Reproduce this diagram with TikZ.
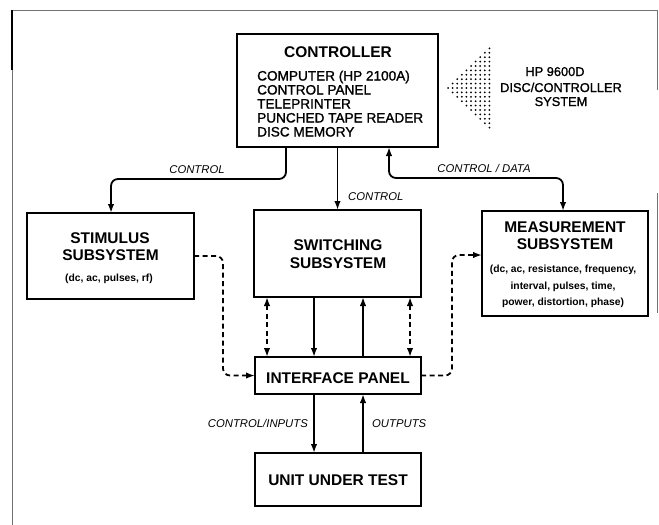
\documentclass[tikz,border=0pt]{standalone}
\usepackage{fontspec}
\setmainfont{Liberation Sans}
\newfontfamily\medfont[FakeBold=1.3]{Liberation Sans}
\usetikzlibrary{arrows.meta,calc}
\begin{document}
\begin{tikzpicture}[x=1pt,y=-1pt]
\tikzset{
 boxst/.style={draw,line width=2.4pt,inner sep=0pt,outer sep=0pt},
 conn/.style={line width=1.8pt},
 arr/.style={conn,-{Latex[length=9pt,width=6.5pt]}},
 biarr/.style={conn,{Latex[length=9pt,width=6.5pt]}-{Latex[length=9pt,width=6.5pt]}},
 dashconn/.style={conn,dash pattern=on 5pt off 3.5pt},
 rc/.style={rounded corners=7pt},
 ttl/.style={font=\bfseries\fontsize{15.5}{18}\selectfont,inner sep=0pt,anchor=base},
 lst/.style={font=\medfont\fontsize{13.6}{14}\selectfont,inner sep=0pt,anchor=base west},
 sml/.style={font=\bfseries\fontsize{10.3}{12}\selectfont,inner sep=0pt,anchor=base},
 lbl/.style={font=\itshape\fontsize{11.3}{13}\selectfont,inner sep=0pt},
 hpst/.style={font=\medfont\fontsize{12.8}{14}\selectfont,inner sep=0pt,anchor=base},
 framest/.style={draw=black!55,line width=1pt}
}
\useasboundingbox (0,0) rectangle (659,525);
% frame
\draw[framest] (12,525) -- (12,10) -- (657,10) -- (657,90);
\draw[framest] (657,193) -- (657,313);
\draw[line width=1.5pt] (12,10) -- (12,70);

% boxes
\node[boxst,minimum width=201pt,minimum height=113pt] (ctrl) at (337.5,90.5) {};
\node[boxst,minimum width=167pt,minimum height=86pt] (stim) at (110.5,256) {};
\node[boxst,minimum width=167pt,minimum height=87pt] (sw) at (337.5,253.5) {};
\node[boxst,minimum width=166pt,minimum height=105pt] (meas) at (565,263.5) {};
\node[boxst,minimum width=166pt,minimum height=37pt] (ifp) at (338,375.5) {};
\node[boxst,minimum width=166pt,minimum height=53pt] (uut) at (338,479.5) {};

% texts
\node[ttl] (tctrl) at (338,57.5) {CONTROLLER};
\node[lst] (l1) at (257,80.5) {COMPUTER (HP 2100A)};
\node[lst] (l2) at (257,94.5) {CONTROL PANEL};
\node[lst] (l3) at (257,108.5) {TELEPRINTER};
\node[lst] (l4) at (257,122.5) {PUNCHED TAPE READER};
\node[lst] (l5) at (257,136.5) {DISC MEMORY};

\node[hpst] (hp1) at (555,76) {HP 9600D};
\node[hpst] (hp2) at (561,92) {DISC/CONTROLLER};
\node[hpst] (hp3) at (561,106) {SYSTEM};

\node[ttl] (ts1) at (110,243.5) {STIMULUS};
\node[ttl] (ts2) at (110.5,260) {SUBSYSTEM};
\node[sml] (ts3) at (109,281) {(dc, ac, pulses, rf)};

\node[ttl] (tw1) at (338,250) {SWITCHING};
\node[ttl] (tw2) at (338,268) {SUBSYSTEM};

\node[ttl] (tm1) at (565,232) {MEASUREMENT};
\node[ttl] (tm2) at (565,249.5) {SUBSYSTEM};
\node[sml] (tm3) at (563,272.5) {(dc, ac, resistance, frequency,};
\node[sml] (tm4) at (563,289) {interval, pulses, time,};
\node[sml] (tm5) at (563,305.5) {power, distortion, phase)};

\node[ttl] (ti) at (338,383.5) {INTERFACE PANEL};
\node[ttl] (tu) at (338,485) {UNIT UNDER TEST};

% dotted triangle
\foreach \i in {0,...,9}{
  \pgfmathtruncatemacro\n{floor(40*\i/9/4.4)}
  \pgfmathtruncatemacro\m{2*\n}
  \foreach \k in {0,...,\m}{
    \fill (448+\i*4.6, 88+\k*4.4-\n*4.4) circle[radius=1pt];
  }
}

% coordinates
\coordinate (k1) at (286,179);
\coordinate (k2) at (111,179);
\coordinate (k3) at (389,178);
\coordinate (k4) at (563,178);
\coordinate (k5) at (223,256);
\coordinate (k7) at (452,376);
\coordinate (k8) at (452,255);
\coordinate (v1) at (267,0);
\coordinate (v2) at (314,0);
\coordinate (v3) at (363,0);
\coordinate (v4) at (410,0);

% connectors
\draw[arr,rc] (ctrl.south -| k1) -- (k1) -- (k2) -- (stim.north -| k2);
\draw[arr] (ctrl.south) -- (sw.north);
\draw[biarr,rc] (ctrl.south -| k3) -- (k3) -- (k4) -- (meas.north -| k4);

\draw[biarr,dashconn] (sw.south -| v1) -- (ifp.north -| v1);
\draw[arr] (sw.south -| v2) -- (ifp.north -| v2);
\draw[arr] (ifp.north -| v3) -- (sw.south -| v3);
\draw[biarr,dashconn] (sw.south -| v4) -- (ifp.north -| v4);

\draw[arr,dashconn,rc] (stim.east) -- (stim.east -| k5) -- (k5 |- ifp.west) -- (ifp.west);
\draw[arr,dashconn,rc] (ifp.east) -- (ifp.east -| k7) -- (k8) -- (meas.west |- k8);

\draw[arr] (ifp.south -| v2) -- (uut.north -| v2);
\draw[arr] (uut.north -| v3) -- (ifp.south -| v3);

% labels
\node[lbl,anchor=base] (lb1) at (197,173.5) {CONTROL};
\node[lbl,anchor=base west] (lb2) at (348,200) {CONTROL};
\node[lbl,anchor=base] (lb3) at (484,172) {CONTROL / DATA};
\node[lbl,anchor=base east] (lb4) at (308,427) {CONTROL/INPUTS};
\node[lbl,anchor=base west] (lb5) at (372,427) {OUTPUTS};
\end{tikzpicture}
\end{document}
